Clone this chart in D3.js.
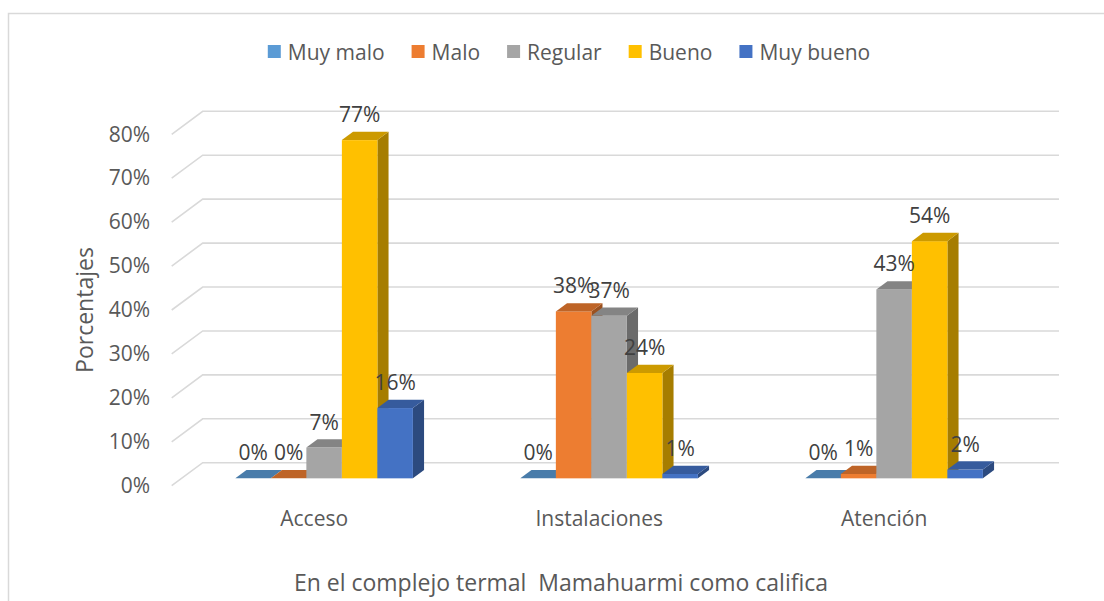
<!DOCTYPE html>
<html>
<head>
<meta charset="utf-8">
<script src="https://cdn.jsdelivr.net/npm/d3@7"></script>
<style>
  html, body { margin: 0; padding: 0; background: #fff; }
  svg { display: block; font-family: "Open Sans", sans-serif; }
</style>
</head>
<body>
<svg id="chart" width="1104" height="601"></svg>
<script>
// ---- data ----
const categories = ["Acceso", "Instalaciones", "Atención"];
const seriesNames = ["Muy malo", "Malo", "Regular", "Bueno", "Muy bueno"];
const muyMalo  = [0, 0, 0];
const malo     = [0, 38, 1];
const regular  = [7, 37, 43];
const bueno    = [77, 24, 54];
const muyBueno = [16, 1, 2];
const seriesColors = ["#5B9BD5", "#ED7D31", "#A5A5A5", "#FFC000", "#4472C4"];
const yTicks = [0, 10, 20, 30, 40, 50, 60, 70, 80];
const yTitle = "Porcentajes";
const xTitle = "En el complejo termal  Mamahuarmi como califica";

const seriesValues = [muyMalo, malo, regular, bueno, muyBueno];

// ---- geometry ----
const svg = d3.select("#chart");
const textColor = "#595959";
const gridColor = "#d9d9d9";

const frontX0 = 171.7;          // left front edge of floor
const plotW = 855;              // width of category range
const depthDX = 31, depthDY = -23;  // full depth of the 3D box
const barF0 = 0.32, barF1 = 0.68;   // bar slab position inside depth

const y = d3.scaleLinear().domain([0, 80]).range([485.7, 134.3]);

// category band scale on the bar front plane
const barPlaneX = frontX0 + barF0 * depthDX;
const barPlaneDY = barF0 * depthDY;
const x = d3.scaleBand().domain(categories)
  .range([barPlaneX, barPlaneX + plotW])
  .paddingInner(0.377).paddingOuter(0.1885);
const xs = d3.scaleBand().domain(seriesNames).range([0, x.bandwidth()]);

const bdx = (barF1 - barF0) * depthDX, bdy = (barF1 - barF0) * depthDY;

// chart border
svg.append("rect").attr("x", 8.5).attr("y", 13.5)
  .attr("width", 1110).attr("height", 600)
  .attr("fill", "none").attr("stroke", gridColor).attr("stroke-width", 1.5);

// ---- gridlines (floor/back wall) ----
const grid = svg.append("g");
yTicks.forEach(t => {
  const yf = y(t);
  grid.append("path")
    .attr("d", `M${frontX0},${yf} L${frontX0 + depthDX},${yf + depthDY} L1059,${yf + depthDY}`)
    .attr("fill", "none").attr("stroke", gridColor).attr("stroke-width", 1.6);
});

// ---- y axis labels ----
const yAxis = d3.axisLeft(y).tickValues(yTicks).tickSize(0).tickPadding(0)
  .tickFormat(d => d + "%");
const gy = svg.append("g").attr("transform", "translate(150,0)").call(yAxis);
gy.select(".domain").remove();
gy.selectAll("text").attr("fill", textColor).style("font-size", "21px")
  .style("font-family", "'Open Sans', sans-serif");

// ---- category axis ----
const xAxis = d3.axisBottom(x).tickSize(0).tickPadding(0);
const gx = svg.append("g").attr("transform", `translate(${-barF0 * depthDX},511)`).call(xAxis);
gx.select(".domain").remove();
gx.selectAll("text").attr("fill", textColor).style("font-size", "21px")
  .style("font-family", "'Open Sans', sans-serif");

// ---- bars ----
const bars = svg.append("g");
const baseY = y(0) + barPlaneDY;
categories.forEach((cat, ci) => {
  seriesNames.forEach((s, si) => {
    const v = seriesValues[si][ci];
    const col = d3.color(seriesColors[si]);
    const topCol = d3.rgb(col.r * 0.8, col.g * 0.8, col.b * 0.8);
    const sideCol = d3.rgb(col.r * 0.65, col.g * 0.65, col.b * 0.65);
    const x0 = x(cat) + xs(s), x1 = x0 + xs.bandwidth();
    const yt = y(v) + barPlaneDY;
    const g = bars.append("g");
    // side face
    g.append("path")
      .attr("d", `M${x1},${baseY} L${x1 + bdx},${baseY + bdy} L${x1 + bdx},${yt + bdy} L${x1},${yt} Z`)
      .attr("fill", sideCol);
    // front face
    if (v > 0) {
      g.append("rect").attr("x", x0).attr("y", yt).attr("width", x1 - x0).attr("height", baseY - yt)
        .attr("fill", seriesColors[si]);
    }
    // top face
    g.append("path")
      .attr("d", `M${x0},${yt} L${x1},${yt} L${x1 + bdx},${yt + bdy} L${x0 + bdx},${yt + bdy} Z`)
      .attr("fill", topCol);
  });
});

// ---- data labels ----
const labels = svg.append("g");
categories.forEach((cat, ci) => {
  seriesNames.forEach((s, si) => {
    const v = seriesValues[si][ci];
    const cx = x(cat) + xs(s) + xs.bandwidth() / 2;
    const yt = y(v) + barPlaneDY;
    labels.append("text")
      .attr("x", cx).attr("y", yt - 18)
      .attr("text-anchor", "middle")
      .attr("fill", "#404040")
      .style("font-size", "21px")
      .text(v + "%");
  });
});

// ---- axis titles ----
svg.append("text")
  .attr("transform", "translate(93,310) rotate(-90)")
  .attr("text-anchor", "middle")
  .attr("fill", textColor).style("font-size", "23px")
  .text(yTitle);

svg.append("text")
  .attr("x", 561).attr("y", 591)
  .attr("text-anchor", "middle")
  .attr("fill", textColor).style("font-size", "23px")
  .style("white-space", "pre")
  .text(xTitle);

// ---- legend ----
const legend = svg.append("g");
const gap = 27;
let cursor = 0;
seriesNames.forEach((s, i) => {
  const g = legend.append("g");
  g.append("rect").attr("x", 0).attr("y", 45).attr("width", 13).attr("height", 13)
    .attr("fill", seriesColors[i]);
  const t = g.append("text").attr("x", 20).attr("y", 59.5)
    .attr("fill", textColor).style("font-size", "21px").text(s);
  const w = t.node().getComputedTextLength();
  g.attr("transform", `translate(${cursor},0)`);
  cursor += 20 + w + gap;
});
const totalW = cursor - gap;
legend.attr("transform", `translate(${569 - totalW / 2},0)`);
</script>
</body>
</html>
